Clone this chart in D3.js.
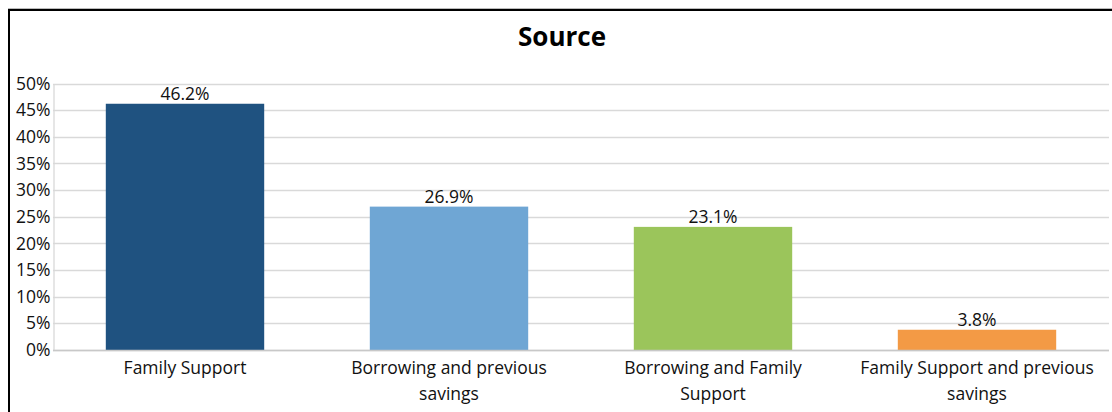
<!DOCTYPE html>
<html>
<head>
<meta charset="utf-8">
<script src="https://cdn.jsdelivr.net/npm/d3@7"></script>
<style>
  html, body { margin: 0; padding: 0; background: #fff; }
  svg { display: block; font-family: "Open Sans", "Noto Sans", sans-serif; }
</style>
</head>
<body>
<svg id="chart" width="1112" height="412"></svg>
<script>
const categories = [
  ["Family Support"],
  ["Borrowing and previous", "savings"],
  ["Borrowing and Family", "Support"],
  ["Family Support and previous", "savings"]
];
const values = [46.2, 26.9, 23.1, 3.8];
const barColors = ["#1F5280", "#6FA6D4", "#9BC55B", "#F39A45"];
const yTicks = [0, 5, 10, 15, 20, 25, 30, 35, 40, 45, 50];
const title = "Source";

const svg = d3.select("#chart");
const W = 1112, H = 412;
const margin = { left: 53, right: 3, top: 83.5, bottom: 62 };

// outer frame
svg.append("line").attr("x1", 8).attr("x2", W).attr("y1", 8.5).attr("y2", 8.5)
  .attr("stroke", "#bbb").attr("stroke-width", 1);
svg.append("path")
  .attr("d", `M9,${H} V10 H${W}`)
  .attr("fill", "none").attr("stroke", "#000").attr("stroke-width", 2);

const x = d3.scaleBand()
  .domain(d3.range(values.length))
  .range([margin.left, W - margin.right])
  .paddingInner(0.4).paddingOuter(0.2);

const y = d3.scaleLinear().domain([0, 50]).range([H - margin.bottom, margin.top]);

// gridlines
svg.append("g")
  .selectAll("line").data(yTicks).join("line")
  .attr("x1", margin.left).attr("x2", W - margin.right)
  .attr("y1", d => Math.round(y(d)) + 0.5).attr("y2", d => Math.round(y(d)) + 0.5)
  .attr("stroke", "#d9d9d9").attr("stroke-width", 1.3);

// y axis
const yAxis = svg.append("g")
  .attr("transform", `translate(${margin.left + 0.5},0)`)
  .call(d3.axisLeft(y).tickValues(yTicks).tickFormat(d => d + "%").tickSize(0).tickPadding(3));
yAxis.select(".domain").attr("stroke", "#d9d9d9").attr("stroke-width", 1.3);
yAxis.selectAll("text").attr("font-size", 17.5).attr("fill", "#111")
  .attr("font-family", "'Open Sans', 'Noto Sans', sans-serif");

// bars
svg.append("g").selectAll("rect").data(values).join("rect")
  .attr("x", (d, i) => x(i)).attr("width", x.bandwidth())
  .attr("y", d => y(d)).attr("height", d => y(0) - y(d))
  .attr("fill", (d, i) => barColors[i]);

// baseline
svg.append("line")
  .attr("x1", margin.left).attr("x2", W - margin.right)
  .attr("y1", Math.round(y(0)) + 0.5).attr("y2", Math.round(y(0)) + 0.5)
  .attr("stroke", "#c8c8c8").attr("stroke-width", 1.5);

// value labels
svg.append("g").selectAll("text").data(values).join("text")
  .attr("x", (d, i) => x(i) + x.bandwidth() / 2)
  .attr("y", d => y(d) - 4)
  .attr("text-anchor", "middle").attr("font-size", 17.5).attr("fill", "#111")
  .text(d => d.toFixed(1) + "%");

// category labels
const cat = svg.append("g").selectAll("text").data(categories).join("text")
  .attr("text-anchor", "middle").attr("font-size", 17.5).attr("fill", "#111");
cat.each(function(lines, i) {
  d3.select(this).selectAll("tspan").data(lines).join("tspan")
    .attr("x", x(i) + x.bandwidth() / 2)
    .attr("y", (l, j) => 374 + j * 26)
    .text(l => l);
});

// title
svg.append("text")
  .attr("x", 562).attr("y", 46)
  .attr("text-anchor", "middle").attr("font-size", 26).attr("font-weight", "bold")
  .attr("fill", "#000").text(title);
</script>
</body>
</html>
